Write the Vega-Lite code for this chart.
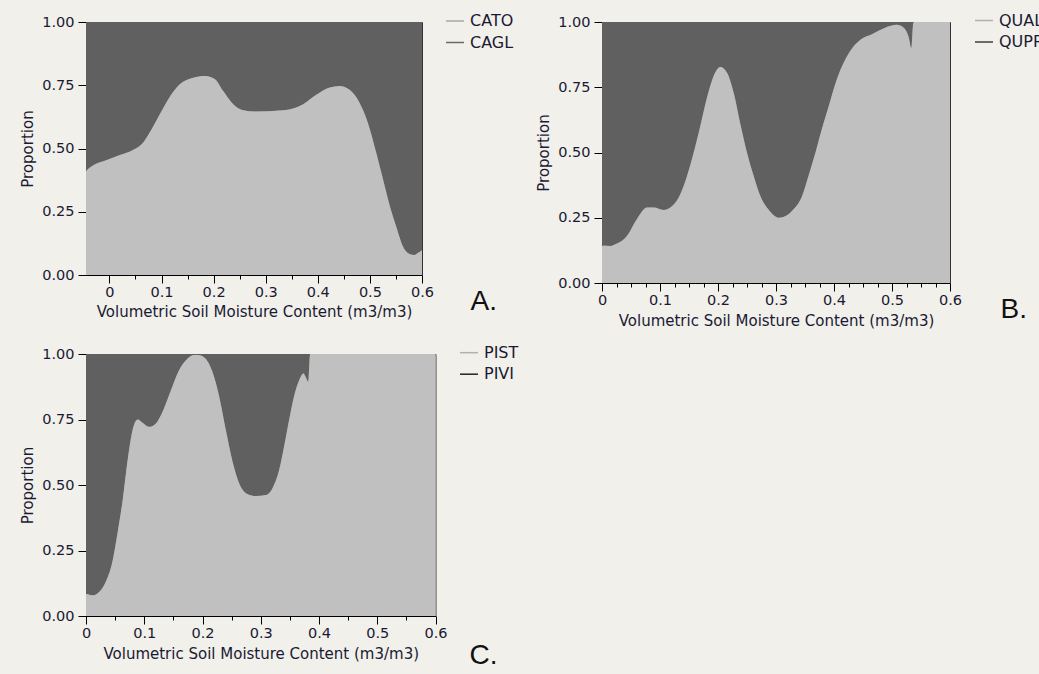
{
  "$schema": "https://vega.github.io/schema/vega-lite/v6.json",
  "background": "#f1f0eb",
  "padding": {"left": 20, "top": 10, "right": 0, "bottom": 12},
  "config": {
    "view": {"stroke": "#333333", "strokeWidth": 1},
    "axis": {"domainColor": "#000000", "domainWidth": 1, "tickColor": "#000000", "tickWidth": 1, "labelFont": "DejaVu Sans", "labelFontSize": 14.5, "labelColor": "#1a1a33", "titleFont": "DejaVu Sans", "titleFontSize": 15, "titleFontWeight": "normal", "titleColor": "#1a1a33", "grid": false},
    "legend": {"symbolType": "stroke", "symbolSize": 324, "symbolStrokeWidth": 1.5, "labelFont": "DejaVu Sans", "labelFontSize": 16, "labelColor": "#1a1a33", "rowPadding": 3.5, "labelOffset": 5, "padding": 0},
    "title": {"font": "Liberation Sans", "fontSize": 28, "fontWeight": "normal", "color": "#111111", "orient": "bottom", "anchor": "end", "frame": "group", "baseline": "alphabetic", "offset": 0}
  },
  "resolve": {"scale": {"fill": "independent", "stroke": "independent"}},
  "spacing": 13,
  "vconcat": [
    {
      "spacing": 21,
      "resolve": {"scale": {"fill": "independent", "stroke": "independent"}},
      "hconcat": [
        {
          "width": 336,
          "height": 253,
          "title": {"text": "A.", "dx": 75, "dy": -36},
          "data": {"values": [
            {"x": -0.045, "p": 0.412}, {"x": -0.031, "p": 0.434}, {"x": -0.005, "p": 0.455}, {"x": 0.02, "p": 0.474},
            {"x": 0.046, "p": 0.495}, {"x": 0.065, "p": 0.524}, {"x": 0.081, "p": 0.576}, {"x": 0.097, "p": 0.636},
            {"x": 0.113, "p": 0.695}, {"x": 0.135, "p": 0.754}, {"x": 0.161, "p": 0.78}, {"x": 0.183, "p": 0.787},
            {"x": 0.2025, "p": 0.774}, {"x": 0.218, "p": 0.728}, {"x": 0.2375, "p": 0.675}, {"x": 0.257, "p": 0.651},
            {"x": 0.279, "p": 0.646}, {"x": 0.333, "p": 0.651}, {"x": 0.372, "p": 0.675}, {"x": 0.397, "p": 0.712},
            {"x": 0.423, "p": 0.741}, {"x": 0.442, "p": 0.747}, {"x": 0.461, "p": 0.732}, {"x": 0.48, "p": 0.681},
            {"x": 0.496, "p": 0.602}, {"x": 0.512, "p": 0.484}, {"x": 0.525, "p": 0.379}, {"x": 0.538, "p": 0.274},
            {"x": 0.551, "p": 0.188}, {"x": 0.563, "p": 0.115}, {"x": 0.576, "p": 0.083}, {"x": 0.5856, "p": 0.079},
            {"x": 0.592, "p": 0.087}, {"x": 0.6, "p": 0.098}
          ]},
          "encoding": {
            "x": {"field": "x", "type": "quantitative", "scale": {"domain": [-0.045, 0.6], "nice": false, "zero": false},
              "axis": {"title": "Volumetric Soil Moisture Content (m3/m3)", "values": [0, 0.05, 0.1, 0.15, 0.2, 0.25, 0.3, 0.35, 0.4, 0.45, 0.5, 0.55, 0.6],
                "labelExpr": "abs(round(datum.value*10) - datum.value*10) < 0.001 ? format(datum.value, '~g') : ''",
                "tickSize": {"condition": {"test": "abs(round(datum.value*10) - datum.value*10) < 0.001", "value": 8}, "value": 4},
                "labelFlush": false, "labelOverlap": false, "labelPadding": 2, "titlePadding": 6}},
            "y": {"field": "p", "type": "quantitative", "scale": {"domain": [0, 1], "nice": false},
              "axis": {"title": "Proportion", "values": [0, 0.25, 0.5, 0.75, 1], "format": ".2f", "tickSize": 8, "labelPadding": 4, "titlePadding": 6}}
          },
          "layer": [
            {"mark": {"type": "area", "interpolate": "monotone", "strokeWidth": 0},
             "encoding": {"y2": {"datum": 0},
               "fill": {"datum": "CATO", "type": "nominal", "scale": {"domain": ["CATO", "CAGL"], "range": ["#c0c0c0", "#606060"]}, "legend": {"title": null, "orient": "none", "legendX": 359, "legendY": -11}},
               "stroke": {"datum": "CATO", "type": "nominal", "scale": {"domain": ["CATO", "CAGL"], "range": ["#a8a8a8", "#6a6a6a"]}, "legend": {"title": null, "orient": "none", "legendX": 359, "legendY": -11}}}},
            {"mark": {"type": "area", "interpolate": "monotone", "strokeWidth": 0},
             "encoding": {"y2": {"datum": 1},
               "fill": {"datum": "CAGL", "type": "nominal"},
               "stroke": {"datum": "CAGL", "type": "nominal"}}}
          ]
        },
        {
          "width": 348,
          "height": 261,
          "title": {"text": "B.", "dx": 77, "dy": -37},
          "data": {"values": [
            {"x": 0, "p": 0.144}, {"x": 0.0144, "p": 0.142}, {"x": 0.026, "p": 0.151}, {"x": 0.043, "p": 0.18},
            {"x": 0.06, "p": 0.244}, {"x": 0.0776, "p": 0.289}, {"x": 0.089, "p": 0.289}, {"x": 0.106, "p": 0.28},
            {"x": 0.121, "p": 0.295}, {"x": 0.135, "p": 0.34}, {"x": 0.1466, "p": 0.41}, {"x": 0.158, "p": 0.499},
            {"x": 0.1695, "p": 0.602}, {"x": 0.181, "p": 0.71}, {"x": 0.1925, "p": 0.793}, {"x": 0.204, "p": 0.828},
            {"x": 0.2155, "p": 0.806}, {"x": 0.227, "p": 0.729}, {"x": 0.238, "p": 0.614}, {"x": 0.25, "p": 0.499},
            {"x": 0.2615, "p": 0.41}, {"x": 0.273, "p": 0.333}, {"x": 0.287, "p": 0.282}, {"x": 0.306, "p": 0.25},
            {"x": 0.3276, "p": 0.276}, {"x": 0.345, "p": 0.333}, {"x": 0.356, "p": 0.41}, {"x": 0.368, "p": 0.499},
            {"x": 0.379, "p": 0.589}, {"x": 0.391, "p": 0.678}, {"x": 0.402, "p": 0.761}, {"x": 0.414, "p": 0.831},
            {"x": 0.428, "p": 0.889}, {"x": 0.445, "p": 0.931}, {"x": 0.4655, "p": 0.953}, {"x": 0.488, "p": 0.978},
            {"x": 0.5086, "p": 0.989}, {"x": 0.52, "p": 0.978}, {"x": 0.529, "p": 0.94}, {"x": 0.5333, "p": 0.9},
            {"x": 0.537, "p": 1.0}, {"x": 0.6, "p": 1.0}
          ]},
          "encoding": {
            "x": {"field": "x", "type": "quantitative", "scale": {"domain": [0, 0.6], "nice": false, "zero": false},
              "axis": {"title": "Volumetric Soil Moisture Content (m3/m3)", "values": [0, 0.025, 0.05, 0.075, 0.1, 0.125, 0.15, 0.175, 0.2, 0.225, 0.25, 0.275, 0.3, 0.325, 0.35, 0.375, 0.4, 0.425, 0.45, 0.475, 0.5, 0.525, 0.55, 0.575, 0.6],
                "labelExpr": "abs(round(datum.value*10) - datum.value*10) < 0.001 ? format(datum.value, '~g') : ''",
                "tickSize": {"condition": {"test": "abs(round(datum.value*10) - datum.value*10) < 0.001", "value": 8}, "value": 4},
                "labelFlush": false, "labelOverlap": false, "labelPadding": 2, "titlePadding": 7}},
            "y": {"field": "p", "type": "quantitative", "scale": {"domain": [0, 1], "nice": false},
              "axis": {"title": "Proportion", "values": [0, 0.25, 0.5, 0.75, 1], "format": ".2f", "tickSize": 8, "labelPadding": 4, "titlePadding": 6}}
          },
          "layer": [
            {"mark": {"type": "area", "interpolate": "monotone", "strokeWidth": 0},
             "encoding": {"y2": {"datum": 0},
               "fill": {"datum": "QUAL", "type": "nominal", "scale": {"domain": ["QUAL", "QUPR"], "range": ["#c0c0c0", "#606060"]}, "legend": {"title": null, "orient": "none", "legendX": 372, "legendY": -11.5}},
               "stroke": {"datum": "QUAL", "type": "nominal", "scale": {"domain": ["QUAL", "QUPR"], "range": ["#b0b0b0", "#404040"]}, "legend": {"title": null, "orient": "none", "legendX": 372, "legendY": -11.5}}}},
            {"mark": {"type": "area", "interpolate": "monotone", "strokeWidth": 0},
             "encoding": {"y2": {"datum": 1},
               "fill": {"datum": "QUPR", "type": "nominal"},
               "stroke": {"datum": "QUPR", "type": "nominal"}}}
          ]
        }
      ]
    },
    {
      "width": 349.5,
      "height": 262,
      "title": {"text": "C.", "dx": 62, "dy": -24},
      "data": {"values": [
        {"x": 0, "p": 0.086}, {"x": 0.0115, "p": 0.079}, {"x": 0.023, "p": 0.093}, {"x": 0.034, "p": 0.131},
        {"x": 0.046, "p": 0.214}, {"x": 0.054, "p": 0.315}, {"x": 0.063, "p": 0.443}, {"x": 0.0715, "p": 0.595},
        {"x": 0.08, "p": 0.71}, {"x": 0.0887, "p": 0.75}, {"x": 0.097, "p": 0.738}, {"x": 0.1086, "p": 0.722},
        {"x": 0.12, "p": 0.735}, {"x": 0.1315, "p": 0.78}, {"x": 0.146, "p": 0.863}, {"x": 0.16, "p": 0.939},
        {"x": 0.1745, "p": 0.983}, {"x": 0.1887, "p": 0.998}, {"x": 0.203, "p": 0.987}, {"x": 0.217, "p": 0.932},
        {"x": 0.2287, "p": 0.837}, {"x": 0.24, "p": 0.71}, {"x": 0.2516, "p": 0.589}, {"x": 0.263, "p": 0.506},
        {"x": 0.277, "p": 0.466}, {"x": 0.2916, "p": 0.458}, {"x": 0.309, "p": 0.462}, {"x": 0.32, "p": 0.487},
        {"x": 0.3316, "p": 0.557}, {"x": 0.34, "p": 0.646}, {"x": 0.3487, "p": 0.748}, {"x": 0.357, "p": 0.837},
        {"x": 0.366, "p": 0.9}, {"x": 0.3734, "p": 0.926}, {"x": 0.377, "p": 0.913}, {"x": 0.3814, "p": 0.894},
        {"x": 0.3848, "p": 1.0}, {"x": 0.6, "p": 1.0}
      ]},
      "encoding": {
        "x": {"field": "x", "type": "quantitative", "scale": {"domain": [0, 0.6], "nice": false, "zero": false},
          "axis": {"title": "Volumetric Soil Moisture Content (m3/m3)", "values": [0, 0.05, 0.1, 0.15, 0.2, 0.25, 0.3, 0.35, 0.4, 0.45, 0.5, 0.55, 0.6],
            "labelExpr": "abs(round(datum.value*10) - datum.value*10) < 0.001 ? format(datum.value, '~g') : ''",
            "tickSize": {"condition": {"test": "abs(round(datum.value*10) - datum.value*10) < 0.001", "value": 8}, "value": 4},
            "labelFlush": false, "labelOverlap": false, "labelPadding": 2, "titlePadding": 7}},
        "y": {"field": "p", "type": "quantitative", "scale": {"domain": [0, 1], "nice": false},
          "axis": {"title": "Proportion", "values": [0, 0.25, 0.5, 0.75, 1], "format": ".2f", "tickSize": 8, "labelPadding": 4, "titlePadding": 6}}
      },
      "layer": [
        {"mark": {"type": "area", "interpolate": "monotone", "strokeWidth": 0},
         "encoding": {"y2": {"datum": 0},
           "fill": {"datum": "PIST", "type": "nominal", "scale": {"domain": ["PIST", "PIVI"], "range": ["#c0c0c0", "#606060"]}, "legend": {"title": null, "orient": "none", "legendX": 373, "legendY": -11.3}},
           "stroke": {"datum": "PIST", "type": "nominal", "scale": {"domain": ["PIST", "PIVI"], "range": ["#b0b0b0", "#222222"]}, "legend": {"title": null, "orient": "none", "legendX": 373, "legendY": -11.3}}}},
        {"mark": {"type": "area", "interpolate": "monotone", "strokeWidth": 0},
         "encoding": {"y2": {"datum": 1},
           "fill": {"datum": "PIVI", "type": "nominal"},
           "stroke": {"datum": "PIVI", "type": "nominal"}}}
      ]
    }
  ]
}
